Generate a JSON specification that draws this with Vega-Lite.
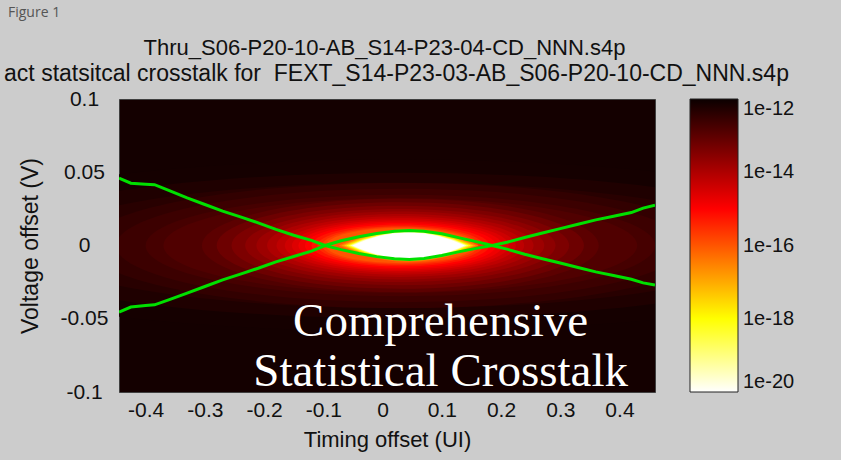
{
  "$schema": "https://vega.github.io/schema/vega-lite/v6.json",
  "width": 536,
  "height": 293,
  "autosize": {"type": "none"},
  "padding": {"left": 119, "top": 99, "right": 186, "bottom": 68},
  "background": "#cccccc",
  "title": {
    "text": "Figure 1",
    "anchor": "start",
    "frame": "group",
    "dx": -111,
    "offset": 16,
    "font": "Open Sans",
    "fontSize": 14,
    "fontWeight": "normal",
    "color": "#555555"
  },
  "config": {
    "view": {"fill": "#140000", "stroke": "#404040", "strokeWidth": 1},
    "axis": {
      "labelFont": "Liberation Sans",
      "labelFontSize": 21,
      "labelColor": "#111111",
      "titleFont": "Liberation Sans",
      "titleFontSize": 22,
      "titleFontWeight": "normal",
      "titleColor": "#111111",
      "ticks": false,
      "domain": false,
      "grid": false,
      "labelFlush": false,
      "labelOverlap": false
    }
  },
  "resolve": {"axis": {"x": "independent", "y": "independent"}},
  "layer": [
    {
      "data": {
        "values": [
          {"band": "g1", "cx": 0.03, "cy": 0, "a": 0.85, "v": -12.12},
          {"band": "g1", "cx": 0.03, "cy": 0, "a": 0.72, "v": -12.24},
          {"band": "g1", "cx": 0.03, "cy": 0, "a": 0.62, "v": -12.36},
          {"band": "g2", "cx": 0.03, "cy": 0, "a": 0.53, "v": -12.48},
          {"band": "g2", "cx": 0.03, "cy": 0, "a": 0.48, "v": -12.6},
          {"band": "g2", "cx": 0.03, "cy": 0, "a": 0.43, "v": -12.72},
          {"band": "g2", "cx": 0.03, "cy": 0, "a": 0.4, "v": -12.85},
          {"band": "h", "cx": 0.03, "cy": 0, "a": 0.335, "v": -13.0},
          {"band": "h", "cx": 0.03, "cy": 0, "a": 0.31, "v": -13.2},
          {"band": "h", "cx": 0.03, "cy": 0, "a": 0.285, "v": -13.4},
          {"band": "h", "cx": 0.03, "cy": 0, "a": 0.262, "v": -13.6},
          {"band": "h", "cx": 0.03, "cy": 0, "a": 0.243, "v": -13.8},
          {"band": "h", "cx": 0.03, "cy": 0, "a": 0.225, "v": -14.0},
          {"band": "h", "cx": 0.03, "cy": 0, "a": 0.209, "v": -14.2},
          {"band": "h", "cx": 0.03, "cy": 0, "a": 0.195, "v": -14.4},
          {"band": "h", "cx": 0.03, "cy": 0, "a": 0.183, "v": -14.6},
          {"band": "h", "cx": 0.03, "cy": 0, "a": 0.172, "v": -14.8},
          {"band": "h", "cx": 0.03, "cy": 0, "a": 0.161, "v": -15.0},
          {"band": "h", "cx": 0.03, "cy": 0, "a": 0.15, "v": -15.25},
          {"band": "h", "cx": 0.03, "cy": 0, "a": 0.14, "v": -15.5},
          {"band": "h", "cx": 0.03, "cy": 0, "a": 0.132, "v": -15.75},
          {"band": "h", "cx": 0.03, "cy": 0, "a": 0.125, "v": -16.0},
          {"band": "core", "cx": 0.044, "cy": 0, "a": 0.118, "v": -16.4},
          {"band": "core", "cx": 0.044, "cy": 0, "a": 0.113, "v": -16.9},
          {"band": "core", "cx": 0.044, "cy": 0, "a": 0.109, "v": -17.4},
          {"band": "core", "cx": 0.044, "cy": 0, "a": 0.105, "v": -18.0},
          {"band": "core", "cx": 0.044, "cy": 0, "a": 0.101, "v": -18.7},
          {"band": "core", "cx": 0.044, "cy": 0, "a": 0.098, "v": -19.4},
          {"band": "core", "cx": 0.044, "cy": 0, "a": 0.095, "v": -20.5}
        ]
      },
      "mark": {"type": "point", "filled": true, "opacity": 1, "strokeWidth": 0, "clip": true},
      "encoding": {
        "x": {
          "field": "cx",
          "type": "quantitative",
          "scale": {"domain": [-0.445, 0.46], "nice": false, "zero": false},
          "axis": {
            "orient": "bottom",
            "values": [-0.4, -0.3, -0.2, -0.1, 0, 0.1, 0.2, 0.3, 0.4],
            "labelExpr": "'' + datum.value",
            "labelPadding": 7,
            "title": "Timing offset (UI)",
            "titlePadding": 9
          }
        },
        "y": {
          "field": "cy",
          "type": "quantitative",
          "scale": {"domain": [-0.1, 0.1], "nice": false, "zero": false},
          "axis": {
            "orient": "left",
            "values": [-0.1, -0.05, 0, 0.05, 0.1],
            "labelExpr": "'' + datum.value",
            "labelAlign": "center",
            "labelBaseline": "middle",
            "labelPadding": 35,
            "title": "Voltage offset (V)",
            "titleFontSize": 23,
            "titleX": -89,
            "titleY": 146.5,
            "titleAngle": -90,
            "titleAlign": "center",
            "titleBaseline": "middle"
          }
        },
        "size": {
          "field": "a",
          "type": "quantitative",
          "scale": {"type": "pow", "exponent": 2, "domain": [0, 1], "range": [0, 1403277]},
          "legend": null
        },
        "shape": {
          "field": "band",
          "type": "nominal",
          "scale": {
            "domain": ["g1", "g2", "h", "core"],
            "range": [
              "M-1,0A1,0.1706,0,1,0,1,0A1,0.1706,0,1,0,-1,0Z",
              "M-1,0A1,0.1994,0,1,0,1,0A1,0.1994,0,1,0,-1,0Z",
              "M-1,0A1,0.2355,0,1,0,1,0A1,0.2355,0,1,0,-1,0Z",
              "M-1,0Q0,-0.462,1,0Q0,0.462,-1,0Z"
            ]
          },
          "legend": null
        },
        "color": {
          "field": "v",
          "type": "quantitative",
          "scale": {
            "domain": [-20, -18, -15, -12],
            "range": ["#ffffff", "#ffff00", "#ff0000", "#0b0000"],
            "interpolate": "rgb",
            "clamp": true
          },
          "legend": {
            "orient": "none",
            "legendX": 571,
            "legendY": 0,
            "direction": "vertical",
            "gradientLength": 293,
            "gradientThickness": 48,
            "gradientStrokeColor": "#222222",
            "gradientStrokeWidth": 1,
            "values": [-12, -14, -16, -18, -20],
            "labelExpr": "'1e' + datum.value",
            "labelFont": "Liberation Sans",
            "labelFontSize": 20,
            "labelColor": "#111111",
            "labelOffset": 5,
            "encode": {
              "labels": {"dy": {"signal": "datum.value === -12 ? -10 : datum.value === -20 ? 10 : 0"}}
            },
            "title": null
          }
        }
      }
    },
    {
      "data": {
        "values": [
          {"curve": "a", "x": -0.445, "y": 0.046},
          {"curve": "a", "x": -0.425, "y": 0.0425},
          {"curve": "a", "x": -0.4, "y": 0.0418},
          {"curve": "a", "x": -0.385, "y": 0.0415},
          {"curve": "a", "x": -0.36, "y": 0.0375},
          {"curve": "a", "x": -0.33, "y": 0.0325},
          {"curve": "a", "x": -0.3, "y": 0.028},
          {"curve": "a", "x": -0.27, "y": 0.0235},
          {"curve": "a", "x": -0.24, "y": 0.0195},
          {"curve": "a", "x": -0.21, "y": 0.0155},
          {"curve": "a", "x": -0.18, "y": 0.011},
          {"curve": "a", "x": -0.15, "y": 0.007},
          {"curve": "a", "x": -0.12, "y": 0.0035},
          {"curve": "a", "x": -0.097, "y": 0.0},
          {"curve": "a", "x": -0.07, "y": -0.0028},
          {"curve": "a", "x": -0.04, "y": -0.0055},
          {"curve": "a", "x": -0.01, "y": -0.0076},
          {"curve": "a", "x": 0.02, "y": -0.009},
          {"curve": "a", "x": 0.045, "y": -0.0095},
          {"curve": "a", "x": 0.07, "y": -0.0088},
          {"curve": "a", "x": 0.1, "y": -0.0068},
          {"curve": "a", "x": 0.13, "y": -0.0042},
          {"curve": "a", "x": 0.16, "y": -0.0018},
          {"curve": "a", "x": 0.185, "y": 0.0},
          {"curve": "a", "x": 0.21, "y": 0.0022},
          {"curve": "a", "x": 0.24, "y": 0.0055},
          {"curve": "a", "x": 0.27, "y": 0.0085},
          {"curve": "a", "x": 0.3, "y": 0.0115},
          {"curve": "a", "x": 0.33, "y": 0.0145},
          {"curve": "a", "x": 0.36, "y": 0.0175},
          {"curve": "a", "x": 0.39, "y": 0.02},
          {"curve": "a", "x": 0.42, "y": 0.0225},
          {"curve": "a", "x": 0.44, "y": 0.0255},
          {"curve": "a", "x": 0.46, "y": 0.0275},
          {"curve": "b", "x": -0.445, "y": -0.0455},
          {"curve": "b", "x": -0.425, "y": -0.042},
          {"curve": "b", "x": -0.4, "y": -0.041},
          {"curve": "b", "x": -0.385, "y": -0.0405},
          {"curve": "b", "x": -0.36, "y": -0.037},
          {"curve": "b", "x": -0.33, "y": -0.0325},
          {"curve": "b", "x": -0.3, "y": -0.028},
          {"curve": "b", "x": -0.27, "y": -0.0235},
          {"curve": "b", "x": -0.24, "y": -0.0195},
          {"curve": "b", "x": -0.21, "y": -0.0155},
          {"curve": "b", "x": -0.18, "y": -0.0112},
          {"curve": "b", "x": -0.15, "y": -0.0075},
          {"curve": "b", "x": -0.12, "y": -0.0038},
          {"curve": "b", "x": -0.097, "y": 0.0},
          {"curve": "b", "x": -0.07, "y": 0.0032},
          {"curve": "b", "x": -0.04, "y": 0.006},
          {"curve": "b", "x": -0.01, "y": 0.0082},
          {"curve": "b", "x": 0.02, "y": 0.0098},
          {"curve": "b", "x": 0.045, "y": 0.0103},
          {"curve": "b", "x": 0.07, "y": 0.0098},
          {"curve": "b", "x": 0.1, "y": 0.008},
          {"curve": "b", "x": 0.13, "y": 0.0052},
          {"curve": "b", "x": 0.16, "y": 0.0025},
          {"curve": "b", "x": 0.185, "y": 0.0},
          {"curve": "b", "x": 0.21, "y": -0.0025},
          {"curve": "b", "x": 0.24, "y": -0.006},
          {"curve": "b", "x": 0.27, "y": -0.009},
          {"curve": "b", "x": 0.3, "y": -0.012},
          {"curve": "b", "x": 0.33, "y": -0.015},
          {"curve": "b", "x": 0.36, "y": -0.018},
          {"curve": "b", "x": 0.39, "y": -0.0205},
          {"curve": "b", "x": 0.42, "y": -0.023},
          {"curve": "b", "x": 0.44, "y": -0.0255},
          {"curve": "b", "x": 0.46, "y": -0.027}
        ]
      },
      "mark": {"type": "line", "color": "#00e000", "strokeWidth": 3, "clip": true},
      "encoding": {
        "x": {
          "field": "x",
          "type": "quantitative",
          "scale": {"domain": [-0.445, 0.46], "nice": false, "zero": false},
          "axis": null
        },
        "y": {
          "field": "y",
          "type": "quantitative",
          "scale": {"domain": [-0.1, 0.1], "nice": false, "zero": false},
          "axis": {
            "orient": "right",
            "labels": false,
            "ticks": false,
            "domain": false,
            "grid": false,
            "title": "act statsitcal crosstalk for \u00a0FEXT_S14-P23-03-AB_S06-P20-10-CD_NNN.s4p",
            "titleX": -259,
            "titleY": -26,
            "titleAlign": "center",
            "titleAngle": 0,
            "titleBaseline": "middle",
            "titleFont": "Liberation Sans",
            "titleFontSize": 23,
            "titleFontWeight": "normal",
            "titleColor": "#111111"
          }
        },
        "detail": {"field": "curve", "type": "nominal"}
      }
    },
    {
      "data": {"values": [{"label": "Comprehensive\nStatistical Crosstalk"}]},
      "mark": {
        "type": "text",
        "font": "Liberation Serif",
        "fontSize": 47,
        "color": "#ffffff",
        "align": "center",
        "baseline": "middle",
        "lineBreak": "\n",
        "lineHeight": 50
      },
      "encoding": {
        "x": {
          "datum": 0.098,
          "type": "quantitative",
          "scale": {"domain": [-0.445, 0.46], "nice": false, "zero": false},
          "axis": {
            "orient": "top",
            "labels": false,
            "ticks": false,
            "domain": false,
            "grid": false,
            "title": "Thru_S06-P20-10-AB_S14-P23-04-CD_NNN.s4p",
            "titleX": 265,
            "titleY": -52,
            "titleAlign": "center",
            "titleAngle": 0,
            "titleBaseline": "middle",
            "titleFont": "Liberation Sans",
            "titleFontSize": 22,
            "titleFontWeight": "normal",
            "titleColor": "#111111"
          }
        },
        "y": {
          "datum": -0.0522,
          "type": "quantitative",
          "scale": {"domain": [-0.1, 0.1], "nice": false, "zero": false},
          "axis": null
        },
        "text": {"field": "label", "type": "nominal"}
      }
    }
  ]
}
